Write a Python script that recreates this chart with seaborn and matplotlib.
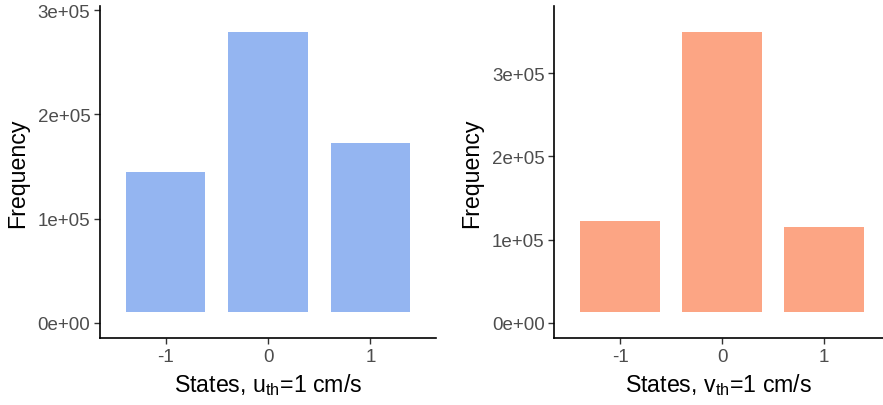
import matplotlib
matplotlib.use("Agg")
import matplotlib.pyplot as plt
import seaborn as sns
import pandas as pd
from matplotlib.ticker import FuncFormatter

# Frequency of each discretised velocity state
states = ["-1", "0", "1"]
u_freq = [144500, 278700, 172600]
v_freq = [122800, 349000, 115600]
u_base = 10300
v_base = 12800

u_color = "#94B5F1"
v_color = "#FCA584"

sns.set_theme(style="ticks")
plt.rcParams["font.family"] = ["Liberation Sans", "DejaVu Sans"]
plt.rcParams["mathtext.fontset"] = "custom"
plt.rcParams["mathtext.rm"] = "Liberation Sans"
plt.rcParams["mathtext.it"] = "Liberation Sans:italic"

fig = plt.figure(figsize=(8.83, 4.06), dpi=100)
ax_u = fig.add_axes([100 / 883, 1 - 339.3 / 406, 336 / 883, 332.6 / 406])
ax_v = fig.add_axes([554.3 / 883, 1 - 339.3 / 406, 328.4 / 883, 332.6 / 406])

panels = [
    (ax_u, u_freq, u_base, u_color, r"States, u$_{\mathrm{th}}$=1 cm/s",
     (-14700, 304200), (-0.642, 2.642)),
    (ax_v, v_freq, v_base, v_color, r"States, v$_{\mathrm{th}}$=1 cm/s",
     (-18400, 381000), (-0.644, 2.575)),
]

for ax, freq, base, color, xlabel, ylim, xlim in panels:
    df = pd.DataFrame({"state": states, "height": [f - base for f in freq]})
    sns.barplot(data=df, x="state", y="height", order=states, color=color,
                saturation=1, width=0.776, bottom=base, edgecolor="none",
                linewidth=0, ax=ax)
    ax.set_ylim(*ylim)
    ax.set_xlim(*xlim)
    ax.set_yticks([0, 100000, 200000, 300000])
    ax.yaxis.set_major_formatter(FuncFormatter(lambda v, p: f"{v:.0e}"))
    ax.set_xlabel(xlabel, fontsize=16.7, color="black", labelpad=4.5)
    ax.set_ylabel("Frequency", fontsize=16.7, color="black", labelpad=6)
    for side in ("top", "right"):
        ax.spines[side].set_visible(False)
    for side in ("left", "bottom"):
        ax.spines[side].set_linewidth(1.2)
        ax.spines[side].set_color("black")
    ax.tick_params(axis="both", labelsize=13.5, labelcolor="#4D4D4D",
                   color="#333333", length=4, width=1, pad=3)
    ax.set_facecolor("white")

fig.savefig("out.png", dpi=100, facecolor="white")
